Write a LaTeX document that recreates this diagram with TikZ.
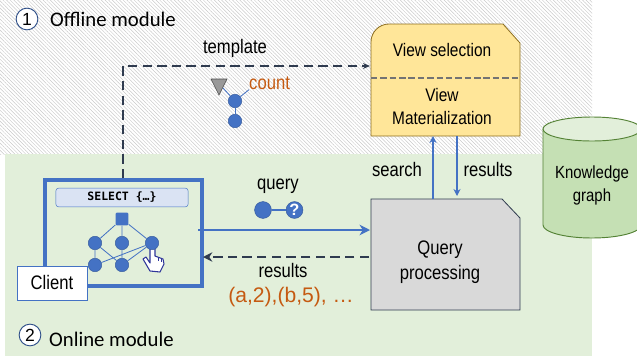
\documentclass[tikz,border=0pt]{standalone}
\usepackage{fontspec}
\setmainfont[FakeStretch=0.85]{Liberation Sans}
\newfontfamily\plainfont{Liberation Sans}
\newfontfamily\calfont{Carlito}
\newfontfamily\codefont{DejaVu Sans Mono}
\usetikzlibrary{patterns.meta,arrows.meta}
\definecolor{blueline}{HTML}{4472C4}
\definecolor{darkline}{HTML}{2F3B4F}
\definecolor{resultorange}{HTML}{C55A11}
\definecolor{onlinegreen}{HTML}{E2EFDA}
\definecolor{kgfill}{HTML}{C5E0B4}
\definecolor{kgline}{HTML}{548235}
\definecolor{viewfill}{HTML}{FFE699}
\definecolor{viewline}{HTML}{8C6D1F}
\definecolor{handblue}{HTML}{2F3699}
\tikzset{
  lbl/.style={font=\fontsize{16.7}{19}\selectfont,inner sep=0pt,align=center},
  viewlbl/.style={lbl,font=\fontsize{15.5}{18}\selectfont},
  modlbl/.style={font=\calfont\fontsize{17.7}{20}\selectfont,inner sep=0pt,anchor=west},
  numcirc/.style={circle,draw=blueline!70!black,fill=white,line width=.8pt,minimum size=18.5pt,inner sep=0pt,font=\plainfont\fontsize{15}{16}\selectfont},
  gnode/.style={circle,fill=blueline,draw=blueline!80!black,line width=.4pt,minimum size=11.5pt,inner sep=0pt},
  gedge/.style={blueline,line width=.7pt},
  dasharrow/.style={darkline,line width=1.2pt,dash pattern=on 8pt off 4.5pt},
  bluearrow/.style={blueline,line width=1.1pt},
}
\begin{document}
\begin{tikzpicture}[x=0.03cm,y=-0.03cm]
\useasboundingbox (0,0) rectangle (637,358);
% background areas
\fill[pattern={Lines[angle=-45,distance=2.2pt,line width=.4pt]},pattern color=gray!42] (0,0) rectangle (592,154);
\fill[onlinegreen] (5,154) rectangle (592,356);

% boxes
\draw[viewline,fill=viewfill,line width=.7pt]
  (371,42) arc[start angle=180,end angle=90,x radius=18,y radius=-18] -- (503,24) -- (520,43) -- (520,136) -- (371,136) -- cycle;
\node[viewlbl] (selnode) at (442,50) {View selection};
\node[viewlbl] (matnode) at (442,106.5) {View\\[1.5pt]Materialization};
\coordinate (dashl) at (371,78);
\coordinate (dashr) at (518,78);
\draw[gray!90!black,line width=1.6pt,dash pattern=on 5.5pt off 2.5pt] (dashl)--(dashr);

\draw[darkline,fill=black!15,line width=.7pt] (371,199) -- (502,199) -- (520,218) -- (520,310) -- (371,310) -- cycle;
\node[lbl] (qpnode) at (440,262) {Query\\[2pt]processing};

% knowledge graph
\draw[kgline,fill=kgfill,line width=.8pt] (543,129) -- (543,225) arc[start angle=180,end angle=360,x radius=49,y radius=-13] -- (641,129);
\draw[kgline,fill=onlinegreen,line width=.8pt] (592,129) ellipse[x radius=49,y radius=12];
\node[lbl,font=\fontsize{15}{18}\selectfont] (kgnode) at (592,185.5) {Knowledge\\[2pt]graph};

% client window
\node[draw=blueline,line width=3.4pt,minimum width=133.5pt,minimum height=90pt,inner sep=0pt] (clientwin) at (123.5,233) {};
\node[draw=blueline,fill=blueline!20,rounded corners=2.5pt,minimum width=113pt,minimum height=16pt,inner sep=0pt,font=\codefont\bfseries\fontsize{9.8}{12}\selectfont] (selectbox) at (122,197.5) {SELECT \{…\}};

% tree inside the client
\draw[handblue,fill=white,line width=.9pt,line join=round]
  (150,248) -- (150,263) -- (146,257) -- (143,259) -- (150,271) -- (160,272)
  -- (164,264) -- (163,259) -- (155,256) -- (155,248) -- cycle;
\draw[handblue,line width=.7pt] (158,257) -- (158,261) (161,258) -- (161,262);
\node[rectangle,rounded corners=1pt,fill=blueline,minimum size=11pt,inner sep=0pt] (r) at (122,219) {};
\foreach \nm/\px/\py in {a/95/243,b/122/243,c/152/243,d/95/265,e/122/265} {
  \node[gnode] (\nm) at (\px,\py) {};
}
\draw[gedge] (r)--(a) (r)--(b) (r)--(c) (a)--(d) (b)--(e) (a)--(e) (c)--(d) (c)--(e);

\node[draw=blueline,fill=white,line width=.6pt,minimum width=59.5pt,minimum height=29pt,inner sep=0pt,font=\fontsize{16.7}{19}\selectfont] (client) at (52,283) {Client};

% template glyph
\draw[gray!60!black,fill=gray!80,line width=.5pt] (211,79) -- (227,79) -- (219,95) -- cycle;
\coordinate (tri) at (223,88);
\node[gnode] (tb) at (235,101) {};
\node[gnode] (tc) at (235,121) {};
\node[lbl,text=resultorange,anchor=west] (count) at (249,83) {count};
\draw[gedge] (tri) -- (tb);
\draw[gedge] (tb) -- (count.south west);
\draw[gedge] (tb) -- (tc);

% query glyph
\node[gnode,minimum size=14.4pt] (qa) at (263,210) {};
\node[gnode,minimum size=14.4pt,text=white,font=\plainfont\fontsize{14}{14}\selectfont\bfseries] (qb) at (294.5,210) {?};
\draw[gedge,line width=1pt] (qa)--(qb);

% arrows
\coordinate (tplcorner) at (123,66);
\coordinate (viewin) at (370,66);
\draw[dasharrow,-{Stealth[length=6pt,width=5pt]}] (clientwin.north -| tplcorner) -- (tplcorner) -- (viewin);
\coordinate (qin) at (370,230);
\coordinate (qout) at (198,230);
\draw[bluearrow,-{Stealth[length=9pt,width=9pt]}] (qout) -- (qin);
\coordinate (rin) at (369,257);
\coordinate (rout) at (203,257);
\draw[dasharrow,-{Stealth[length=8pt,width=8pt]}] (rin) -- (rout);
\coordinate (sb) at (433,199);
\coordinate (st) at (433,136);
\draw[bluearrow,-{Stealth[length=6pt,width=6pt]}] (sb) -- (st);
\coordinate (rt) at (457,136);
\coordinate (rb) at (457,196);
\draw[bluearrow,-{Stealth[length=6pt,width=6pt]}] (rt) -- (rb);

% labels
\node[lbl] (tempt) at (235,48) {template};
\node[lbl] (queryt) at (278,186) {query};
\node[lbl] (rest) at (283,271) {results};
\node[lbl,text=resultorange,font=\plainfont\fontsize{18}{20}\selectfont] (resv) at (291,297) {(a,2),(b,5), …};
\node[lbl] (searcht) at (397,170) {search};
\node[lbl] (rest2) at (488,170) {results};

% module titles
\node[numcirc] (one) at (27,19) {1};
\node[modlbl] (off) at (50,19) {Offline module};
\node[numcirc] (two) at (30,335) {2};
\node[modlbl] (on) at (49,339) {Online module};
\end{tikzpicture}
\end{document}
